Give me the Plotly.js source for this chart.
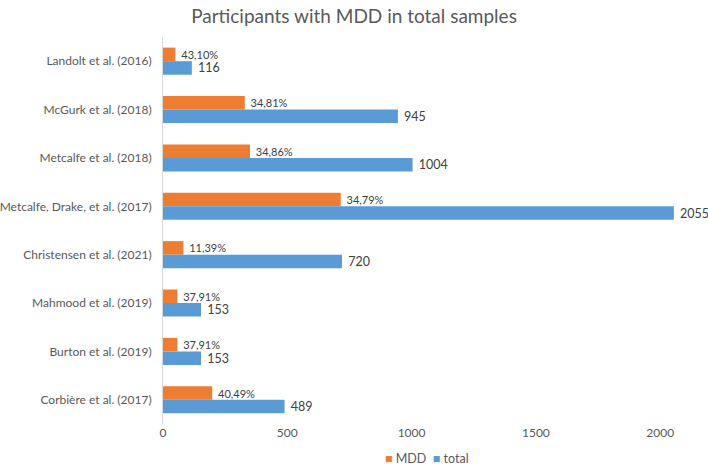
<!DOCTYPE html>
<html>
<head>
<meta charset="utf-8">
<script src="https://cdn.plot.ly/plotly-3.0.1.min.js"></script>
<style>
  html, body { margin: 0; padding: 0; background: #fff; }
  #plot { width: 708px; height: 466px; }
</style>
</head>
<body>
<div id="plot"></div>
<script>
// studies, top to bottom
const studies = [
  "Landolt et al. (2016)",
  "McGurk et al. (2018)",
  "Metcalfe et al. (2018)",
  "Metcalfe, Drake, et al. (2017)",
  "Christensen et al. (2021)",
  "Mahmood et al. (2019)",
  "Burton et al. (2019)",
  "Corbière et al. (2017)"
];
const totalN = [116, 945, 1004, 2055, 720, 153, 153, 489];
const mddN = [50, 329, 350, 715, 82, 58, 58, 198];
const mddPct = ["43,10%", "34,81%", "34,86%", "34,79%", "11,39%", "37,91%", "37,91%", "40,49%"];
const xTicks = [0, 500, 1000, 1500, 2000];

const font = "Lato, 'Open Sans', sans-serif";
const orange = "#ED7D31";
const blue = "#5B9BD5";

const traces = [
  {
    type: "bar",
    orientation: "h",
    name: "MDD",
    y: studies,
    x: mddN,
    text: mddPct.map(s => " " + s),
    textposition: "outside",
    constraintext: "none",
    textfont: { family: font, size: 11, color: "#404040" },
    cliponaxis: false,
    marker: { color: orange },
    hoverinfo: "x+y"
  },
  {
    type: "bar",
    orientation: "h",
    name: "total",
    y: studies,
    x: totalN,
    text: totalN.map(v => " " + v),
    textposition: "outside",
    constraintext: "none",
    textfont: { family: font, size: 12.5, color: "#404040" },
    cliponaxis: false,
    marker: { color: blue },
    hoverinfo: "x+y"
  }
];

// compact legend like the original (square + label)
const legendText =
  `<span style="color:${orange}">■</span> MDD  ` +
  `<span style="color:${blue}">■</span> total`;

const layout = {
  width: 708,
  height: 466,
  margin: { l: 163, r: 18, t: 37, b: 42 },
  paper_bgcolor: "#fff",
  plot_bgcolor: "#fff",
  font: { family: font, size: 12, color: "#595959" },
  title: {
    text: "Participants with MDD in total samples",
    font: { family: font, size: 19, color: "#595959" },
    x: 0.5, xanchor: "center", y: 0.98, yanchor: "top"
  },
  barmode: "group",
  bargap: 0.44,
  bargroupgap: 0,
  showlegend: false,
  xaxis: {
    range: [0, 2120],
    tickvals: xTicks,
    showgrid: false,
    zeroline: false,
    showline: false,
    ticks: "",
    tickfont: { family: font, size: 12, color: "#595959" }
  },
  yaxis: {
    type: "category",
    autorange: "reversed",
    showgrid: false,
    zeroline: false,
    showline: true,
    linecolor: "#D9D9D9",
    linewidth: 1,
    ticks: "",
    ticklabelstandoff: 8,
    tickfont: { family: font, size: 12, color: "#595959" }
  },
  annotations: [
    {
      xref: "paper", yref: "paper",
      x: 0.5, y: 0, xanchor: "center", yanchor: "middle",
      yshift: -34,
      text: legendText,
      showarrow: false,
      font: { family: font, size: 12.5, color: "#595959" }
    }
  ]
};

Plotly.newPlot("plot", traces, layout, { displayModeBar: false, staticPlot: true });
</script>
</body>
</html>
